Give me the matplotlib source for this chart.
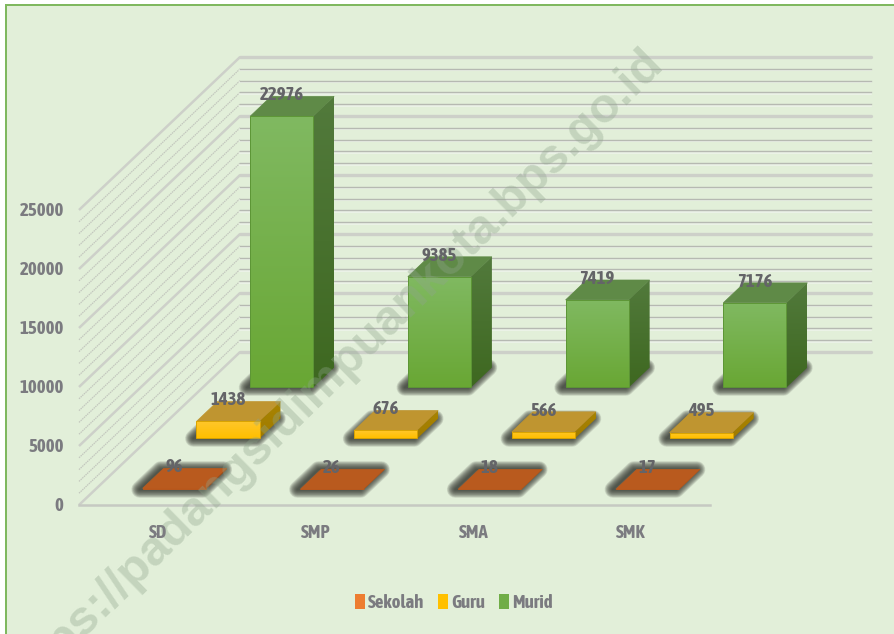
import numpy as np
import matplotlib
matplotlib.use('Agg')
import matplotlib.pyplot as plt
from matplotlib.patches import Polygon, Patch

categories = ['SD', 'SMP', 'SMA', 'SMK']
series_names = ['Sekolah', 'Guru', 'Murid']
sekolah = [96, 26, 18, 17]
guru = [1438, 676, 566, 495]
murid = [22976, 9385, 7419, 7176]
y_ticks = [0, 5000, 10000, 15000, 20000, 25000]
y_minor = 1000
y_max = 25000

W, H = 895, 634
plt.rcParams['font.family'] = ['Asap Condensed', 'Lato', 'DejaVu Sans']

BG = '#e2efd9'
TXT = '#7b7b80'
LBL = '#646468'

# pixel scale of the fake 3d box
X0, Y0 = 79, 505        # front left floor corner
PX_CAT = 157.75         # px per category
PX_VAL = 295 / 25000    # px per value
ROW_DX, ROW_DY = 53.7, 51   # px per series row going backwards
BAR_W = 0.40
BAR_D = 0.39

fig = plt.figure(figsize=(W / 100, H / 100), dpi=100, facecolor='white')
ax = fig.add_axes([0, 0, 1, 1])
ax.set_xlim(-X0 / PX_CAT, (W - X0) / PX_CAT)
ax.set_ylim(-(H - Y0) / PX_VAL, Y0 / PX_VAL)
ax.axis('off')


def proj(cat, depth, val):
    # category / row / value -> axes data coordinates
    return cat + depth * ROW_DX / PX_CAT, val + depth * ROW_DY / PX_VAL


def gradient_poly(pts, top, bottom, z):
    # polygon filled with a vertical gradient, drawn with a clipped imshow
    xs = [p[0] for p in pts]
    ys = [p[1] for p in pts]
    c0, c1 = matplotlib.colors.to_rgb(top), matplotlib.colors.to_rgb(bottom)
    t = np.linspace(0, 1, 64)[:, None, None]
    img = np.array(c0)[None, None, :] * (1 - t) + np.array(c1)[None, None, :] * t
    im = ax.imshow(img, extent=[min(xs), max(xs), min(ys), max(ys)], origin='upper',
                   aspect='auto', zorder=z, interpolation='bilinear')
    clip = Polygon(pts, closed=True, transform=ax.transData, fc='none', ec='none')
    ax.add_patch(clip)
    im.set_clip_path(clip)


# background panel with green top and left border only
ax.add_patch(plt.Rectangle((5 / W, 0), 1, (H - 4) / H, transform=fig.transFigure,
                           fc=BG, ec='none', zorder=0))
ax.add_patch(plt.Rectangle((5 / W, 0), 2 / W, (H - 4) / H, transform=fig.transFigure,
                           fc='#7fb85f', ec='none', zorder=0.1))
ax.add_patch(plt.Rectangle((5 / W, (H - 6) / H), 1, 2 / H, transform=fig.transFigure,
                           fc='#7fb85f', ec='none', zorder=0.1))

# ---- walls and floor ----
n_cat = len(categories)
n_row = len(series_names)
for v in range(0, y_max + 1, y_minor):
    major = v in y_ticks
    side = [proj(0, 0, v), proj(0, n_row, v)]
    back = [proj(0, n_row, v), proj(n_cat, n_row, v)]
    low = [(x, y - 1.4 / PX_VAL) for x, y in back]
    if major:
        ax.plot(*zip(*side), color='#cdd0c9', lw=1.8, zorder=1, solid_capstyle='butt')
        ax.plot(*zip(*back), color='#cdd0c9', lw=2.4, zorder=1, solid_capstyle='round')
    else:
        ax.plot(*zip(*side), color='#c3c7be', lw=0.9, ls=(0, (1.2, 0.6)), zorder=1)
        ax.plot(*zip(*low), color='#eef3ea', lw=1.2, zorder=1)
        ax.plot(*zip(*back), color='#b6b9b2', lw=1.0, zorder=1)
ax.plot(*zip(proj(0, 0, 0), proj(n_cat, 0, 0)), color='#c6c9c2', lw=1.8, zorder=1)

# ---- shadows under the bars, stacked strokes fake the blur ----
values = [sekolah, guru, murid]
for row in range(n_row):
    for i in range(n_cat):
        x0, x1 = i + 0.5 - BAR_W / 2, i + 0.5 + BAR_W / 2
        d0, d1 = row + 0.5 - BAR_D / 2, row + 0.5 + BAR_D / 2
        base = [proj(x0, d0, 0), proj(x1, d0, 0), proj(x1, d1, 0), proj(x0, d1, 0)]
        base = [(x - 3 / PX_CAT, y) for x, y in base]
        for lw in range(12, 0, -1):
            ax.add_patch(Polygon(base, closed=True, fc='none', ec='#33352f', lw=lw, alpha=0.13,
                                 joinstyle='round', zorder=2))

# ---- bars, back row first ----
styles = {
    'Murid': dict(front=('#80b961', '#69a734'), top='#5f8a47', side=('#527a3c', '#3e6820'), edge='#5d9636'),
    'Guru': dict(front=('#ffc72b', '#ffbf00'), top='#bf9530', side=('#a98400', '#a07b00'), edge='#d9a300'),
    'Sekolah': dict(front=('#c05f22', '#b9581c'), top='#b95a1e', side=('#a04c15', '#a04c15'), edge='#b9581c'),
}
z = 3
for row in reversed(range(n_row)):
    name = series_names[row]
    st = styles[name]
    for i, val in enumerate(values[row]):
        x0, x1 = i + 0.5 - BAR_W / 2, i + 0.5 + BAR_W / 2
        d0, d1 = row + 0.5 - BAR_D / 2, row + 0.5 + BAR_D / 2
        front = [proj(x0, d0, 0), proj(x1, d0, 0), proj(x1, d0, val), proj(x0, d0, val)]
        side = [proj(x1, d0, 0), proj(x1, d1, 0), proj(x1, d1, val), proj(x1, d0, val)]
        top = [proj(x0, d0, val), proj(x1, d0, val), proj(x1, d1, val), proj(x0, d1, val)]
        ax.add_patch(Polygon(top, closed=True, fc=st['top'], ec=st['top'], lw=0.5, zorder=z))
        gradient_poly(side, st['side'][0], st['side'][1], z)
        gradient_poly(front, st['front'][0], st['front'][1], z + 0.1)
        ax.add_patch(Polygon(front, closed=True, fc='none', ec=st['edge'], lw=0.7, zorder=z + 0.2))
        z += 0.5

# ---- watermark on top of the bars ----
ax.annotate('https://padangsidimpuankota.bps.go.id', xy=(640 / W, 1 - 40 / H), xycoords='figure fraction',
            rotation=44.5, rotation_mode='anchor', ha='right', va='top', fontsize=35,
            family=['Liberation Sans', 'DejaVu Sans'], fontweight='bold', color='#8fa58c', alpha=0.36,
            zorder=20, annotation_clip=False)

# ---- data labels ----
for row in range(n_row):
    for i, val in enumerate(values[row]):
        d0 = row + 0.5 - BAR_D / 2
        ax.annotate(str(val), proj(i + 0.5, d0, val), xytext=(0, 15.2), textcoords='offset points',
                    ha='center', va='center', fontsize=13.5, fontweight=700, color=LBL, zorder=30)

# ---- axis labels ----
for v in y_ticks:
    ax.annotate(str(v), proj(0, 0, v), xytext=(-11, -1), textcoords='offset points',
                ha='right', va='center', fontsize=13.5, fontweight=700, color=TXT, zorder=30)
for i, c in enumerate(categories):
    ax.annotate(c, proj(i + 0.5, 0, 0), xytext=(0, -20), textcoords='offset points',
                ha='center', va='center', fontsize=13.5, fontweight=700, color=TXT, zorder=30)

# ---- legend ----
handles = [Patch(fc=c, ec='none') for c in ['#ed7d31', '#ffc000', '#70ad47']]
leg = fig.legend(handles, series_names, ncol=3, frameon=False, loc='center',
                 bbox_to_anchor=(454 / W, 1 - 603 / H), labelcolor=TXT,
                 prop={'weight': 700, 'size': 13.5}, handlelength=0.53, handleheight=0.9,
                 handletextpad=0.17, columnspacing=0.75)
leg.set_zorder(30)

fig.savefig('out.png', dpi=100, facecolor='white')
